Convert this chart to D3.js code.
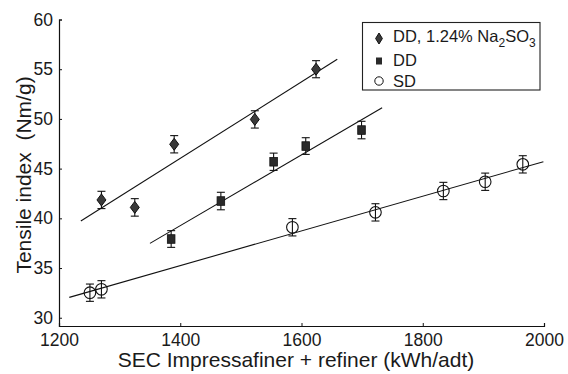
<!DOCTYPE html>
<html>
<head>
<meta charset="utf-8">
<script src="https://cdn.jsdelivr.net/npm/d3@7"></script>
<style>
  body { margin: 0; background: #fff; }
  text { font-family: "Liberation Sans", Arial, sans-serif; fill: #1a1a1a; }
</style>
</head>
<body>
<div id="chart"></div>
<script>
// DD + 1.24% Na2SO3
const naX = [1270, 1325, 1390, 1523, 1624];
const naY = [41.85, 41.1, 47.45, 49.95, 55.0];
const naErr = [0.87, 0.88, 0.87, 0.87, 0.86];
const naFitX = [1236, 1659];
const naFitY = [39.73, 56.0];

// DD
const ddX = [1385, 1467, 1554, 1607, 1699];
const ddY = [37.92, 41.74, 45.69, 47.27, 48.88];
const ddErr = [0.84, 0.88, 0.87, 0.84, 0.88];
const ddFitX = [1350, 1733];
const ddFitY = [37.48, 51.13];

// SD
const sdX = [1251, 1270, 1585, 1722, 1834, 1903, 1965];
const sdY = [32.52, 32.86, 39.1, 40.6, 42.75, 43.68, 45.43];
const sdErr = [0.87, 0.87, 0.87, 0.87, 0.87, 0.87, 0.87];
const sdFitX = [1217, 1999];
const sdFitY = [32.05, 45.7];

const xTicks = [1200, 1400, 1600, 1800, 2000];
const yTicks = [30, 35, 40, 45, 50, 55, 60];

const width = 568, height = 374;

const svg = d3.select("#chart").append("svg")
    .attr("width", width)
    .attr("height", height);

const x = d3.scaleLinear().domain([1200, 2000]).range([59, 544]);
const y = d3.scaleLinear().domain([29.17, 60]).range([326, 19.5]);

// axes
const xAxis = svg.append("g")
    .attr("transform", `translate(0, ${y(29.17)})`)
    .call(d3.axisBottom(x).tickValues(xTicks).tickSize(-3).tickPadding(7).tickFormat(d3.format("d")));
xAxis.select(".domain").attr("stroke", "#111").attr("stroke-width", 1.2);
xAxis.selectAll(".tick line").attr("stroke", "#111");
xAxis.selectAll(".tick text").style("font-size", "17.5px").attr("dy", "0.72em");

const yAxis = svg.append("g")
    .attr("transform", `translate(${x(1200)}, 0)`)
    .call(d3.axisLeft(y).tickValues(yTicks).tickSize(-3).tickPadding(6));
yAxis.select(".domain").attr("stroke", "#111").attr("stroke-width", 1.2);
yAxis.selectAll(".tick line").attr("stroke", "#111");
yAxis.selectAll(".tick text").style("font-size", "17.5px");

// axis titles
svg.append("text")
    .attr("x", 296)
    .attr("y", 367)
    .attr("text-anchor", "middle")
    .style("font-size", "21px")
    .text("SEC Impressafiner + refiner (kWh/adt)");

svg.append("text")
    .attr("transform", "translate(31, 175) rotate(-90)")
    .attr("text-anchor", "middle")
    .style("font-size", "21px")
    .style("white-space", "pre")
    .text("Tensile index  (Nm/g)");

// fit lines
const line = d3.line().x(d => x(d[0])).y(d => y(d[1]));
[[naFitX, naFitY], [ddFitX, ddFitY], [sdFitX, sdFitY]].forEach(([fx, fy]) => {
    svg.append("path")
        .attr("d", line(d3.zip(fx, fy)))
        .attr("fill", "none")
        .attr("stroke", "#111")
        .attr("stroke-width", 1.1);
});

// error bars
function errorBars(xs, ys, errs) {
    const g = svg.append("g").attr("stroke", "#111").attr("stroke-width", 1.1);
    xs.forEach((v, i) => {
        const cx = x(v), top = y(ys[i] + errs[i]), bot = y(ys[i] - errs[i]);
        g.append("line").attr("x1", cx).attr("x2", cx).attr("y1", top).attr("y2", bot);
        g.append("line").attr("x1", cx - 4).attr("x2", cx + 4).attr("y1", top).attr("y2", top);
        g.append("line").attr("x1", cx - 4).attr("x2", cx + 4).attr("y1", bot).attr("y2", bot);
    });
}
errorBars(naX, naY, naErr);
errorBars(ddX, ddY, ddErr);
errorBars(sdX, sdY, sdErr);

// markers
const diamond = (w, h) => `M0,${-h}L${w},0L0,${h}L${-w},0Z`;

svg.append("g").selectAll("path")
    .data(d3.zip(naX, naY))
    .join("path")
    .attr("transform", d => `translate(${x(d[0])}, ${y(d[1])})`)
    .attr("d", diamond(4.5, 6))
    .attr("fill", "#3a3a3a")
    .attr("stroke", "#111")
    .attr("stroke-width", 1);

svg.append("g").selectAll("rect")
    .data(d3.zip(ddX, ddY))
    .join("rect")
    .attr("x", d => x(d[0]) - 3.8)
    .attr("y", d => y(d[1]) - 4.3)
    .attr("width", 7.6)
    .attr("height", 8.6)
    .attr("fill", "#2a2a2a")
    .attr("stroke", "#111")
    .attr("stroke-width", 0.8);

svg.append("g").selectAll("circle")
    .data(d3.zip(sdX, sdY))
    .join("circle")
    .attr("cx", d => x(d[0]))
    .attr("cy", d => y(d[1]))
    .attr("r", 5.8)
    .attr("fill", "none")
    .attr("stroke", "#111")
    .attr("stroke-width", 1.1);

// legend
const legend = svg.append("g");
legend.append("rect")
    .attr("x", 362.5)
    .attr("y", 22.5)
    .attr("width", 177.5)
    .attr("height", 67.5)
    .attr("fill", "#fff")
    .attr("stroke", "#222")
    .attr("stroke-width", 1.1);

legend.append("path")
    .attr("transform", "translate(379, 38.5)")
    .attr("d", diamond(3.4, 5.5))
    .attr("fill", "#3a3a3a")
    .attr("stroke", "#111");

legend.append("rect")
    .attr("x", 376).attr("y", 57.5)
    .attr("width", 6).attr("height", 7)
    .attr("fill", "#2a2a2a");

legend.append("circle")
    .attr("cx", 379).attr("cy", 81)
    .attr("r", 4.2)
    .attr("fill", "none")
    .attr("stroke", "#111");

const t1 = legend.append("text")
    .attr("x", 393)
    .attr("y", 42)
    .style("font-size", "16.5px");
t1.append("tspan").text("DD, 1.24% Na");
t1.append("tspan").attr("dy", 5).style("font-size", "12px").text("2");
t1.append("tspan").attr("dy", -5).text("SO");
t1.append("tspan").attr("dy", 5).style("font-size", "12px").text("3");

legend.append("text")
    .attr("x", 393).attr("y", 66)
    .style("font-size", "16.5px")
    .text("DD");

legend.append("text")
    .attr("x", 393).attr("y", 86.5)
    .style("font-size", "16.5px")
    .text("SD");
</script>
</body>
</html>
